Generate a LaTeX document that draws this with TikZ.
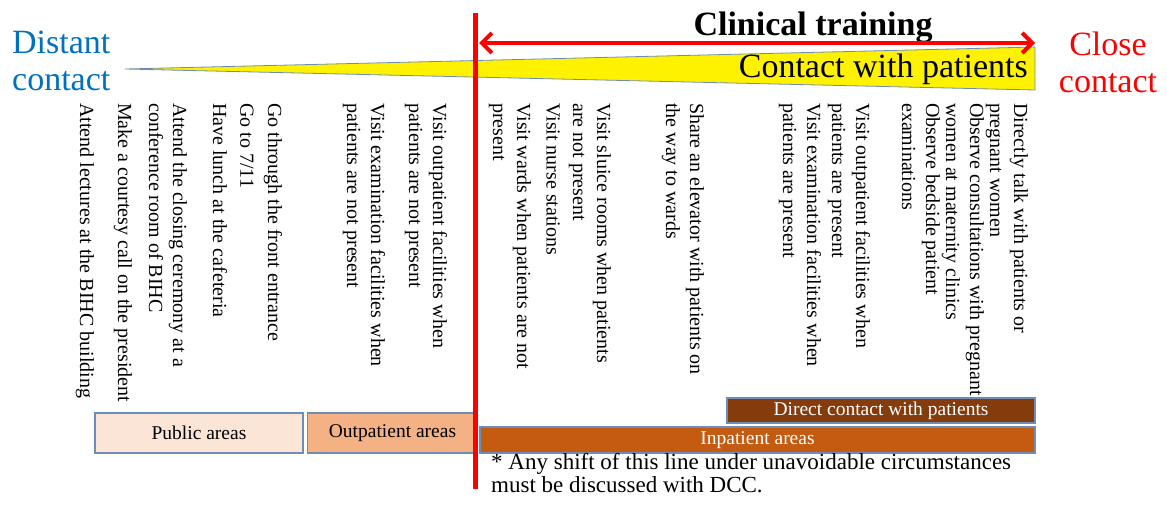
\documentclass[tikz,border=0pt]{standalone}
\usepackage{fontspec}
\setmainfont{Liberation Serif}
\usepackage{xcolor}
\usetikzlibrary{arrows.meta}
\definecolor{distblue}{RGB}{0,112,192}
\definecolor{edgeblue}{RGB}{110,140,180}
\definecolor{publicfill}{RGB}{251,229,214}
\definecolor{outfill}{RGB}{244,177,131}
\definecolor{infill}{RGB}{197,90,17}
\definecolor{directfill}{RGB}{132,60,12}

\begin{document}
\begin{tikzpicture}[x=1pt,y=-1pt,>=Stealth,
  item/.style={rotate=-90,anchor=west,inner sep=0pt,align=left,font=\fontsize{20}{24}\selectfont},
  big/.style={inner sep=0pt,font=\fontsize{34}{37}\selectfont},
  area/.style={draw=edgeblue,line width=1.2pt,inner sep=0pt,font=\fontsize{19.5}{22}\selectfont}]
  \useasboundingbox (0,0) rectangle (1167,504);
  \filldraw[fill=yellow,draw=edgeblue,line width=0.8pt] (125,69) -- (1035,47) -- (1035,90) -- cycle;
  \node[big,text=distblue,align=left,anchor=north west] (distant) at (12,30.5) {Distant\\contact};
  \node[big,text=red,align=center,anchor=north] (close) at (1108,32) {Close\\contact};
  \node[big,font=\fontsize{34}{37}\selectfont\bfseries,anchor=base] (clinical) at (813,35) {Clinical training};
  \node[big,anchor=base east] (contact) at (1028,77) {Contact with patients};
  \node[item] (lectures) at (85,103) {Attend lectures at the BIHC building};
  \node[item] (courtesy) at (123,103) {Make a courtesy call on the president};
  \node[item] (closing) at (168,103) {Attend the closing ceremony at a\\conference room of BIHC};
  \node[item] (lunch) at (220,103) {Have lunch at the cafeteria};
  \node[item] (seven) at (247,103) {Go to 7/11};
  \node[item] (entrance) at (273,103) {Go through the front entrance};
  \node[item] (examno) at (364,103) {Visit examination facilities when\\patients are not present};
  \node[item] (outno) at (426,103) {Visit outpatient facilities when\\patients are not present};
  \node[item] (wards) at (510,103) {Visit wards when patients are not\\present};
  \node[item] (nurse) at (553,103) {Visit nurse stations};
  \node[item] (sluice) at (590,103) {Visit sluice rooms when patients\\are not present};
  \node[item] (elevator) at (683,103) {Share an elevator with patients on\\the way to wards};
  \node[item] (examyes) at (800,103) {Visit examination facilities when\\patients are present};
  \node[item] (outyes) at (849,103) {Visit outpatient facilities when\\patients are present};
  \node[item] (bedside) at (921,103) {Observe bedside patient\\examinations};
  \node[item] (consult) at (963,103) {Observe consultations with pregnant\\women at maternity clinics};
  \node[item] (talk) at (1007,103) {Directly talk with patients or\\pregnant women};
  \node[area,fill=publicfill,minimum width=208pt,minimum height=40pt] (public) at (199,433) {Public areas};
  \node[area,fill=outfill,minimum width=170pt,minimum height=40pt] (outpat) at (392.5,433) {Outpatient areas};
  \node[area,fill=infill,text=white,minimum width=555pt,minimum height=26pt] (inpat) at (757.5,440) {Inpatient areas};
  \node[area,fill=directfill,text=white,minimum width=308pt,minimum height=25pt] (direct) at (881,410.5) {Direct contact with patients};
  \node[anchor=north west,inner sep=0pt,align=left,font=\fontsize{23}{23.5}\selectfont] (note) at (491,453)
    {* Any shift of this line under unavoidable circumstances\\must be discussed with DCC.};
  \coordinate (cutT) at (475,13);
  \coordinate (cutB) at (475,489);
  \draw[red,line width=5pt] (cutT) -- (cutB);
  \coordinate (trainL) at (479,43);
  \coordinate (trainR) at (1035,43);
  \draw[red,line width=4pt,{Straight Barb[length=10pt,width=20pt]}-{Straight Barb[length=10pt,width=20pt]}] (trainL) -- (trainR);
\end{tikzpicture}
\end{document}
